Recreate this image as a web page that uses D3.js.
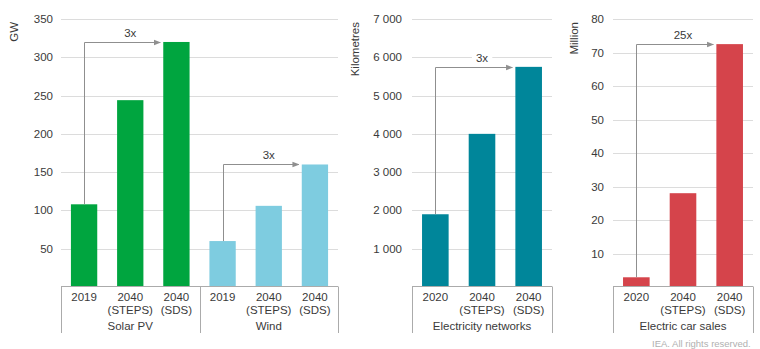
<!DOCTYPE html>
<html>
<head>
<meta charset="utf-8">
<script src="https://cdn.jsdelivr.net/npm/d3@7"></script>
<style>
  html, body { margin: 0; padding: 0; background: #fff; }
  svg { display: block; font-family: "Liberation Sans", Arial, sans-serif; }
</style>
</head>
<body>
<svg id="chart" width="760" height="349"></svg>
<script>
// ---- data ----
const scenarioLabels = [["2019"], ["2040", "(STEPS)"], ["2040", "(SDS)"]];
const scenarioLabels2020 = [["2020"], ["2040", "(STEPS)"], ["2040", "(SDS)"]];

const solarValues = [108, 244, 320];
const windValues = [60, 106, 160];
const networkValues = [1900, 4000, 5750];
const carValues = [2.9, 28, 72.5];

const gwTicks = [50, 100, 150, 200, 250, 300, 350];
const kmTicks = [1000, 2000, 3000, 4000, 5000, 6000, 7000];
const millionTicks = [10, 20, 30, 40, 50, 60, 70, 80];

const multipliers = { solar: "3x", wind: "3x", networks: "3x", cars: "25x" };

const colors = { solar: "#00a53f", wind: "#7ecce0", networks: "#00869a", cars: "#d5444b" };

// ---- drawing ----
const svg = d3.select("#chart");
const yTop = 19, yBase = 287;
const fs = 11.5;
const gridColor = "#dcdcdc", axisColor = "#ababab", textColor = "#3a3a3a", arrowColor = "#8f8f8f";

const defs = svg.append("defs");
defs.append("marker").attr("id", "arr").attr("viewBox", "0 0 10 10")
  .attr("refX", 9).attr("refY", 5).attr("markerWidth", 7).attr("markerHeight", 7)
  .attr("markerUnits", "userSpaceOnUse").attr("orient", "auto")
  .append("path").attr("d", "M0,1 L10,5 L0,9 Z").attr("fill", arrowColor);

function panel(opts) {
  const g = svg.append("g");
  const y = d3.scaleLinear().domain([0, opts.max]).range([yBase, yTop]);
  const keys = [];
  opts.groups.forEach((gr, gi) => gr.values.forEach((v, i) => keys.push(gi + "-" + i)));
  const x = d3.scaleBand().domain(keys).range([opts.x0, opts.x1]).paddingInner(0.43).paddingOuter(0.215);

  g.selectAll(".grid").data(opts.ticks).join("line")
    .attr("x1", opts.x0).attr("x2", opts.x1)
    .attr("y1", d => Math.round(y(d)) + 0.5).attr("y2", d => Math.round(y(d)) + 0.5)
    .attr("stroke", gridColor).attr("stroke-width", 1);

  g.selectAll(".tick").data(opts.ticks).join("text")
    .attr("x", opts.x0 - opts.tickGap).attr("y", d => y(d)).attr("dy", "0.35em")
    .attr("text-anchor", "end").attr("font-size", fs).attr("fill", textColor)
    .text(d => opts.fmt(d));

  g.append("text").attr("transform", `translate(${opts.titleX},22) rotate(-90)`)
    .attr("text-anchor", "end").attr("dy", "0.35em").attr("font-size", fs).attr("fill", textColor)
    .text(opts.title);

  const labelsLayer = g.append("g");
  opts.groups.forEach((gr, gi) => {
    const k = i => gi + "-" + i;
    g.selectAll(".bar" + gi).data(gr.values).join("rect")
      .attr("x", (d, i) => x(k(i))).attr("width", x.bandwidth())
      .attr("y", d => y(d)).attr("height", d => yBase - y(d))
      .attr("fill", gr.color);
    gr.values.forEach((v, i) => {
      const cx = x(k(i)) + x.bandwidth() / 2;
      const t = g.append("text").attr("text-anchor", "middle").attr("font-size", fs).attr("fill", textColor);
      gr.cats[i].forEach((line, li) => {
        t.append("tspan").attr("x", cx).attr("y", 301 + li * 13).text(line);
      });
    });
    const gx0 = x(k(0)) - x.step() * x.paddingOuter();
    const gx1 = x(k(gr.values.length - 1)) + x.bandwidth() + x.step() * x.paddingOuter();
    g.append("text").attr("x", (gx0 + gx1) / 2).attr("y", 330).attr("text-anchor", "middle")
      .attr("font-size", fs).attr("fill", textColor).text(gr.name);

    const n = gr.values.length;
    const ax = Math.round(x(k(0)) + x.bandwidth() / 2) + 0.5;
    const ay = Math.round(y(gr.values[n - 1])) + 0.5;
    const ex = x(k(n - 1)) - 3;
    g.append("path").attr("d", `M${ax},${y(gr.values[0])} L${ax},${ay} L${ex},${ay}`)
      .attr("fill", "none").attr("stroke", arrowColor).attr("stroke-width", 1)
      .attr("marker-end", "url(#arr)");
    const lx = x(k(1)) + x.bandwidth() / 2;
    const lab = labelsLayer.append("text").attr("x", lx).attr("y", ay - 6).attr("text-anchor", "middle")
      .attr("font-size", fs).attr("fill", textColor).text(gr.mult);
    const bb = lab.node().getBBox();
    labelsLayer.insert("rect", "text").attr("x", bb.x - 4).attr("y", bb.y).attr("width", bb.width + 8)
      .attr("height", bb.height).attr("fill", "#fff");
  });

  g.append("line").attr("x1", opts.x0).attr("x2", opts.x1).attr("y1", yBase - 0.5).attr("y2", yBase - 0.5)
    .attr("stroke", axisColor);
  const bounds = [opts.x0];
  let acc = 0;
  opts.groups.forEach(gr => { acc += gr.values.length; bounds.push(opts.x0 + x.step() * acc); });
  bounds[bounds.length - 1] = opts.x1;
  g.selectAll(".sep").data(bounds).join("line")
    .attr("x1", d => Math.round(d) + 0.5).attr("x2", d => Math.round(d) + 0.5)
    .attr("y1", yBase - 0.5).attr("y2", 333).attr("stroke", axisColor);
  g.node().appendChild(labelsLayer.node());
}

const fmtKm = d => d3.format(",")(d).replace(/,/g, " ");

panel({
  x0: 61, x1: 338, max: 350, ticks: gwTicks, fmt: d => d, tickGap: 8, title: "GW", titleX: 14,
  groups: [
    { name: "Solar PV", values: solarValues, cats: scenarioLabels, color: colors.solar, mult: multipliers.solar },
    { name: "Wind", values: windValues, cats: scenarioLabels, color: colors.wind, mult: multipliers.wind }
  ]
});
panel({
  x0: 412, x1: 552, max: 7000, ticks: kmTicks, fmt: fmtKm, tickGap: 10, title: "Kilometres", titleX: 355,
  groups: [
    { name: "Electricity networks", values: networkValues, cats: scenarioLabels2020, color: colors.networks, mult: multipliers.networks }
  ]
});
panel({
  x0: 613, x1: 753, max: 80, ticks: millionTicks, fmt: d => d, tickGap: 9, title: "Million", titleX: 574,
  groups: [
    { name: "Electric car sales", values: carValues, cats: scenarioLabels2020, color: colors.cars, mult: multipliers.cars }
  ]
});

svg.append("text").attr("x", 652).attr("y", 347).attr("font-size", 9.5).attr("fill", "#b0b0b0")
  .text("IEA. All rights reserved.");
</script>
</body>
</html>
